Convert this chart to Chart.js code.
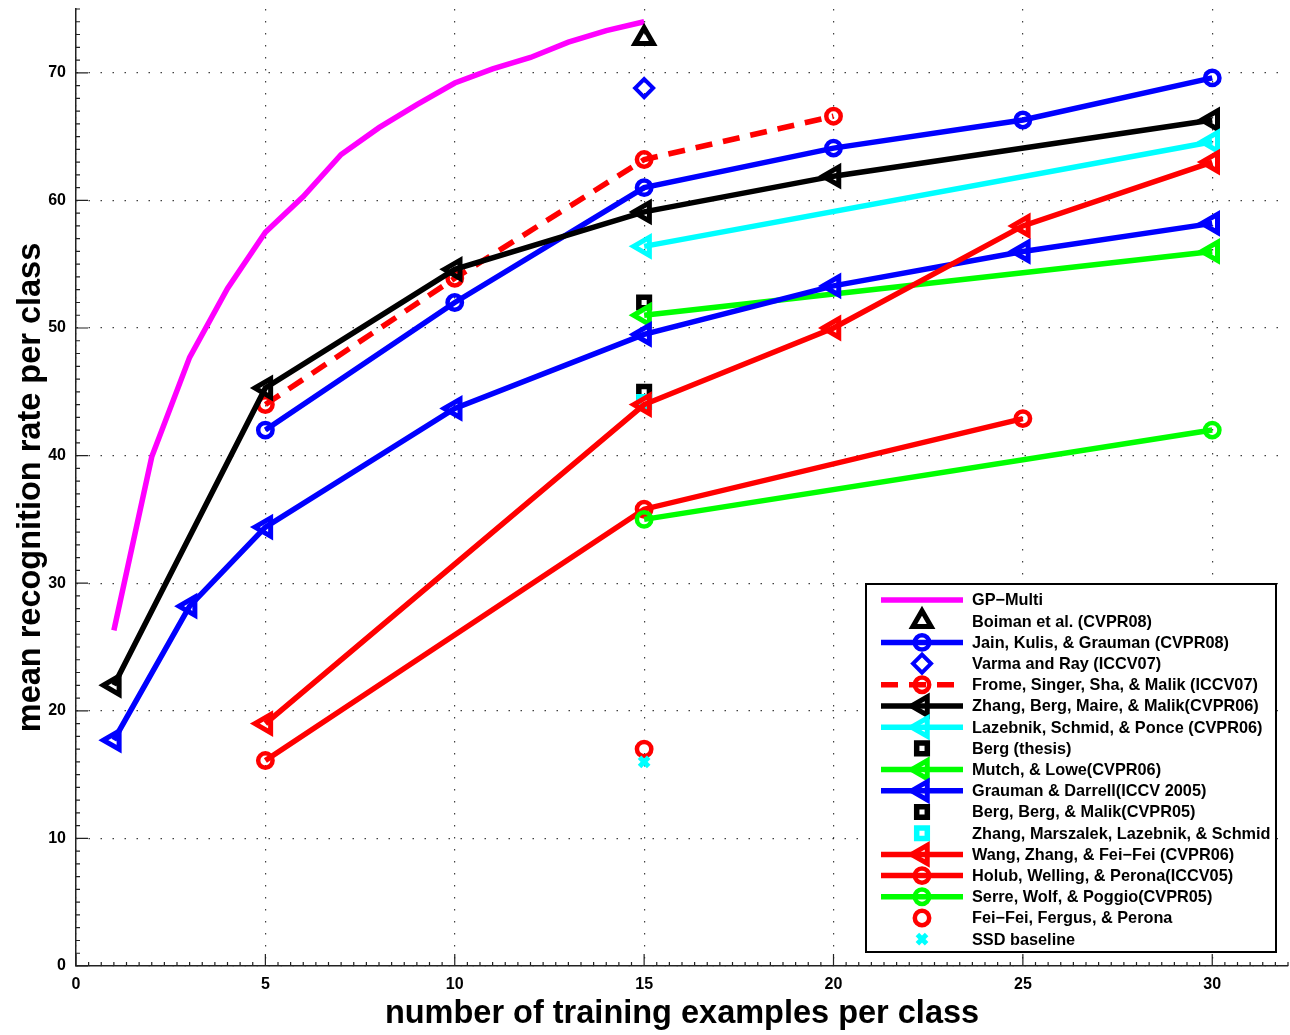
<!DOCTYPE html>
<html>
<head>
<meta charset="utf-8">
<script src="https://cdn.jsdelivr.net/npm/chart.js@4.4.0/dist/chart.umd.min.js"></script>
<style>
  html, body { margin: 0; padding: 0; background: #fff; }
</style>
</head>
<body>
<canvas id="myChart" width="1290" height="1035"></canvas>
<script>
// tick labels
const xTicks = [0, 5, 10, 15, 20, 25, 30];
const yTicks = [0, 10, 20, 30, 40, 50, 60, 70];

// series values (x = training examples, y = rate)
const gpX = [1, 2, 3, 4, 5, 6, 7, 8, 9, 10, 11, 12, 13, 14, 15];
const gpY = [26.3, 39.9, 47.7, 53.1, 57.5, 60.3, 63.6, 65.7, 67.5, 69.2, 70.3, 71.2, 72.4, 73.3, 74.0];
const boimanX = [15];
const boimanY = [72.7];
const jainX = [5, 10, 15, 20, 25, 30];
const jainY = [42.0, 52.0, 61.0, 64.1, 66.3, 69.6];
const varmaX = [15];
const varmaY = [68.8];
const fromeX = [5, 10, 15, 20];
const fromeY = [44.0, 53.9, 63.2, 66.6];
const zhangBergX = [1, 5, 10, 15, 20, 30];
const zhangBergY = [22.0, 45.3, 54.6, 59.1, 61.9, 66.3];
const lazebnikX = [15, 30];
const lazebnikY = [56.4, 64.6];
const bergThesisX = [15];
const bergThesisY = [52.0];
const mutchX = [15, 30];
const mutchY = [51.0, 56.0];
const graumanX = [1, 3, 5, 10, 15, 20, 25, 30];
const graumanY = [17.7, 28.2, 34.4, 43.7, 49.5, 53.3, 56.0, 58.2];
const bergBergX = [15];
const bergBergY = [45.0];
const zhangMarszX = [15];
const zhangMarszY = [44.2];
const wangX = [5, 15, 20, 25, 30];
const wangY = [19.0, 44.0, 50.0, 58.0, 63.0];
const holubX = [5, 15, 25];
const holubY = [16.1, 35.8, 42.9];
const serreX = [15, 30];
const serreY = [35.0, 42.0];
const feifeiX = [15];
const feifeiY = [17.0];
const ssdX = [15];
const ssdY = [16.0];

const FONT = "'Liberation Sans', Arial, Helvetica, sans-serif";
const MAGENTA = '#ff00ff', BLUE = '#0000ff', RED = '#ff0000', BLACK = '#000000', CYAN = '#00ffff', GREEN = '#00ff00';

function pts(xs, ys) {
  return xs.map((x, i) => ({ x: x, y: ys[i] }));
}

// one helper per kind of entry
function lineSet(label, xs, ys, color, marker, extra) {
  const m = marker || {};
  return Object.assign({
    label: label,
    data: pts(xs, ys),
    borderColor: color,
    backgroundColor: color,
    borderWidth: 5.5,
    pointStyle: m.style || 'circle',
    pointRadius: m.radius === undefined ? 0 : m.radius,
    pointRotation: m.rotation || 0,
    pointBorderWidth: m.bw || 4,
    pointBorderColor: color,
    pointBackgroundColor: 'rgba(0,0,0,0)',
    showLine: true
  }, extra || {});
}

function markSet(label, xs, ys, color, marker) {
  const ds = lineSet(label, xs, ys, color, marker);
  ds.showLine = false;
  return ds;
}

const circ = { style: 'circle', radius: 7.2, bw: 4.5 };
const leftTri = { style: 'triangle', radius: 10.5, rotation: -90, bw: 5 };
const square = { style: 'rect', radius: 7.5, bw: 5.5 };

const datasets = [
  lineSet('GP\u2212Multi', gpX, gpY, MAGENTA),
  markSet('Boiman et al. (CVPR08)', boimanX, boimanY, BLACK, { style: 'triangle', radius: 10.5, bw: 5 }),
  lineSet('Jain, Kulis, & Grauman (CVPR08)', jainX, jainY, BLUE, circ),
  markSet('Varma and Ray (ICCV07)', varmaX, varmaY, BLUE, { style: 'rectRot', radius: 9, bw: 4 }),
  lineSet('Frome, Singer, Sha, & Malik (ICCV07)', fromeX, fromeY, RED, circ, { borderDash: [17, 11] }),
  lineSet('Zhang, Berg, Maire, & Malik(CVPR06)', zhangBergX, zhangBergY, BLACK, leftTri),
  lineSet('Lazebnik, Schmid, & Ponce (CVPR06)', lazebnikX, lazebnikY, CYAN, leftTri),
  markSet('Berg (thesis)', bergThesisX, bergThesisY, BLACK, square),
  lineSet('Mutch, & Lowe(CVPR06)', mutchX, mutchY, GREEN, leftTri),
  lineSet('Grauman & Darrell(ICCV 2005)', graumanX, graumanY, BLUE, leftTri),
  markSet('Berg, Berg, & Malik(CVPR05)', bergBergX, bergBergY, BLACK, square),
  markSet('Zhang, Marszalek, Lazebnik, & Schmid', zhangMarszX, zhangMarszY, CYAN, square),
  lineSet('Wang, Zhang, & Fei\u2212Fei (CVPR06)', wangX, wangY, RED, leftTri),
  lineSet('Holub, Welling, & Perona(ICCV05)', holubX, holubY, RED, circ),
  lineSet('Serre, Wolf, & Poggio(CVPR05)', serreX, serreY, GREEN, circ),
  markSet('Fei\u2212Fei, Fergus, & Perona', feifeiX, feifeiY, RED, { style: 'circle', radius: 7.2, bw: 4.5 }),
  markSet('SSD baseline', ssdX, ssdY, CYAN, { style: 'crossRot', radius: 6.5, bw: 5 })
];
// later entries on top, like the original plot
datasets.forEach((ds, i) => { ds.order = datasets.length - i; });

function drawMarker(ctx, ds, x, y) {
  if (!ds.pointRadius) return;
  ctx.save();
  ctx.strokeStyle = ds.pointBorderColor;
  ctx.fillStyle = ds.pointBackgroundColor;
  ctx.lineWidth = ds.pointBorderWidth;
  ctx.setLineDash([]);
  Chart.helpers.drawPoint(ctx, {
    pointStyle: ds.pointStyle,
    rotation: ds.pointRotation,
    radius: ds.pointRadius,
    borderWidth: ds.pointBorderWidth
  }, x, y);
  ctx.restore();
}

// small inward ticks, major and minor
const axisTicks = {
  id: 'axisTicks',
  afterDraw(chart) {
    const ctx = chart.ctx;
    const xs = chart.scales.x, ys = chart.scales.y;
    const a = chart.chartArea;
    ctx.save();
    ctx.strokeStyle = '#222';
    ctx.lineWidth = 1.2;
    ctx.beginPath();
    for (let v = 0; v <= xs.max + 1e-6; v += 1 / 3) {
      const px = xs.getPixelForValue(v);
      const major = xTicks.some(t => Math.abs(t - v) < 1e-6);
      ctx.moveTo(px, a.bottom);
      ctx.lineTo(px, a.bottom - (major ? 12 : 4));
    }
    for (let v = 0; v <= ys.max + 1e-6; v += 1) {
      const py = ys.getPixelForValue(v);
      const major = yTicks.indexOf(v) >= 0;
      ctx.moveTo(a.left, py);
      ctx.lineTo(a.left + (major ? 12 : 4), py);
    }
    ctx.stroke();
    ctx.restore();
  }
};

// MATLAB style legend box in the lower right
const boxLegend = {
  id: 'boxLegend',
  afterDraw(chart) {
    const ctx = chart.ctx;
    const bx = 866, by = 584, bw = 410, bh = 368;
    const rowH = 21.2, firstY = 600;
    ctx.save();
    ctx.fillStyle = '#fff';
    ctx.fillRect(bx, by, bw, bh);
    ctx.strokeStyle = '#000';
    ctx.lineWidth = 2;
    ctx.strokeRect(bx, by, bw, bh);
    ctx.font = 'bold 16.3px ' + FONT;
    ctx.textBaseline = 'middle';
    chart.data.datasets.forEach((ds, i) => {
      const y = firstY + i * rowH;
      if (ds.showLine) {
        ctx.save();
        ctx.strokeStyle = ds.borderColor;
        ctx.lineWidth = ds.borderWidth;
        ctx.setLineDash(ds.borderDash || []);
        ctx.beginPath();
        ctx.moveTo(881, y);
        ctx.lineTo(963, y);
        ctx.stroke();
        ctx.restore();
      }
      drawMarker(ctx, ds, 922, y);
      ctx.fillStyle = '#000';
      ctx.fillText(ds.label, 972, y + 1);
    });
    ctx.restore();
  }
};

const gridStyle = {
  color: 'rgba(0,0,0,0.75)',
  lineWidth: 1.2,
  drawTicks: false
};
const borderStyle = {
  display: true,
  color: '#222',
  width: 1.5,
  dash: [1.5, 10.5]
};

// keep chart.js from reserving room for half tick labels at the ends
function noEdgePadding(s) {
  s.paddingLeft = 0;
  s.paddingRight = 0;
  s.paddingTop = 0;
  s.paddingBottom = 0;
}

new Chart(document.getElementById('myChart').getContext('2d'), {
  type: 'line',
  data: { datasets: datasets },
  plugins: [axisTicks, boxLegend],
  options: {
    responsive: false,
    animation: false,
    layout: { autoPadding: false, padding: { top: 9, right: 2, left: 0, bottom: 0 } },
    plugins: { legend: { display: false }, tooltip: { enabled: false } },
    scales: {
      x: {
        type: 'linear',
        min: 0,
        max: 32,
        afterBuildTicks: s => { s.ticks = xTicks.map(v => ({ value: v })); },
        afterFit: s => { s.height = 69; noEdgePadding(s); },
        grid: gridStyle,
        border: borderStyle,
        ticks: { color: '#000', padding: 9, maxRotation: 0, font: { family: FONT, size: 16, weight: 'bold' } },
        title: {
          display: true,
          text: 'number of training examples per class',
          color: '#000',
          font: { family: FONT, size: 32.5, weight: 'bold' },
          padding: { top: 0, bottom: 1 }
        }
      },
      y: {
        type: 'linear',
        min: 0,
        max: 75,
        afterBuildTicks: s => { s.ticks = yTicks.map(v => ({ value: v })); },
        afterFit: s => { s.width = 76; noEdgePadding(s); },
        grid: gridStyle,
        border: borderStyle,
        ticks: { color: '#000', padding: 10, font: { family: FONT, size: 16, weight: 'bold' } },
        title: {
          display: true,
          text: 'mean recognition rate per class',
          color: '#000',
          font: { family: FONT, size: 32.5, weight: 'bold' },
          padding: { top: 12, bottom: 0 }
        }
      }
    }
  }
});
</script>
</body>
</html>
